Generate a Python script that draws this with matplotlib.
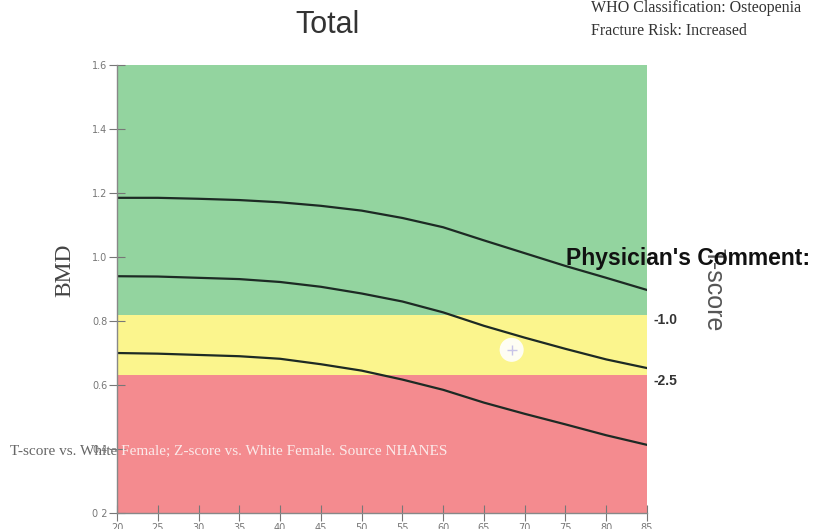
import numpy as np
import matplotlib.pyplot as plt

# Reference curves (BMD by age)
ages = [20, 25, 30, 35, 40, 45, 50, 55, 60, 65, 70, 75, 80, 85]
ref_upper = [1.185, 1.185, 1.182, 1.178, 1.171, 1.160, 1.145, 1.122, 1.093, 1.052, 1.012, 0.972, 0.935, 0.897]
ref_mean = [0.940, 0.939, 0.935, 0.931, 0.922, 0.907, 0.886, 0.861, 0.827, 0.785, 0.748, 0.713, 0.680, 0.653]
ref_lower = [0.700, 0.698, 0.694, 0.690, 0.682, 0.665, 0.645, 0.617, 0.585, 0.545, 0.510, 0.477, 0.443, 0.413]

# T-score zone limits
tscore_labels = ['-1.0', '-2.5']
zone_limits = [0.82, 0.63]

# Patient result
patient_age = 68.4
patient_bmd = 0.71

yticks = [0.2, 0.4, 0.6, 0.8, 1.0, 1.2, 1.4, 1.6]
ytick_labels = ['0 2', '0.4', '0.6', '0.8', '1.0', '1.2', '1.4', '1.6']

fig = plt.figure(figsize=(8.16, 5.29), dpi=100)
ax = fig.add_axes([0.1434, 0.0302, 0.6495, 0.8469])

# Colour zones
ax.axhspan(zone_limits[0], 1.6, color='#93d49f', lw=0, zorder=0)
ax.axhspan(zone_limits[1], zone_limits[0], color='#fbf58d', lw=0, zorder=0)
ax.axhspan(0.2, zone_limits[1], color='#f48b8f', lw=0, zorder=0)

for curve in (ref_upper, ref_mean, ref_lower):
    ax.plot(ages, curve, color='#1d2a24', lw=1.6, zorder=2)

# Patient marker
ax.scatter([patient_age], [patient_bmd], s=300, color='white', alpha=0.9,
           edgecolors='none', zorder=3)
ax.scatter([patient_age], [patient_bmd], s=60, marker='+', color='#c8c4e8',
           linewidths=1, zorder=4)

ax.set_xlim(20, 85)
ax.set_ylim(0.2, 1.6)
ax.set_xticks(ages)
ax.set_xticklabels([str(a) for a in ages])
ax.set_yticks(yticks)
ax.set_yticklabels(ytick_labels)
ax.tick_params(direction='inout', length=12, width=0.8, color='#777',
               labelsize=7, labelcolor='#777', pad=1)
for side in ('top', 'right'):
    ax.spines[side].set_visible(False)
for side in ('left', 'bottom'):
    ax.spines[side].set_color('#888')
    ax.spines[side].set_linewidth(1)

ax.set_ylabel('BMD', family='Liberation Serif', fontsize=17, color='#444')
ax.yaxis.set_label_coords(-0.079, 0.542)

# T-score labels on the right
for lab, lim in zip(tscore_labels, zone_limits):
    ax.text(1.012, lim - 0.018, lab, transform=ax.get_yaxis_transform(),
            fontsize=10, fontweight='bold', color='#333',
            family='Liberation Sans', va='center', ha='left')

fig.text(0.874, 0.452, 'T-score', rotation=270, fontsize=18, color='#555',
         family='Liberation Sans', ha='center', va='center')
fig.text(0.694, 0.512, "Physician's Comment:", fontsize=16.5, fontweight='bold',
         color='#111', family='Liberation Sans', ha='left', va='center')

fig.text(0.401, 0.953, 'Total', fontsize=22, color='#333',
         family='Liberation Sans', ha='center', va='center')
fig.text(0.724, 0.984, 'WHO Classification: Osteopenia', fontsize=11.5,
         color='#333', family='Liberation Serif', ha='left', va='center')
fig.text(0.724, 0.941, 'Fracture Risk: Increased', fontsize=11.5,
         color='#333', family='Liberation Serif', ha='left', va='center')

# Source note: grey on the page, pale where it runs over the plot
note = 'T-score vs. White Female; Z-score vs. White Female. Source NHANES'
fig.text(0.012, 0.146, note, fontsize=11, color='#666',
         family='Liberation Serif', ha='left', va='center', zorder=-1)
inner = ax.text(0.012, 0.146, note, fontsize=11, color='#fbeaea',
                family='Liberation Serif', ha='left', va='center',
                transform=fig.transFigure, zorder=5, clip_on=True)
inner.set_clip_path(ax.patch)

fig.savefig('out.png', dpi=100)
